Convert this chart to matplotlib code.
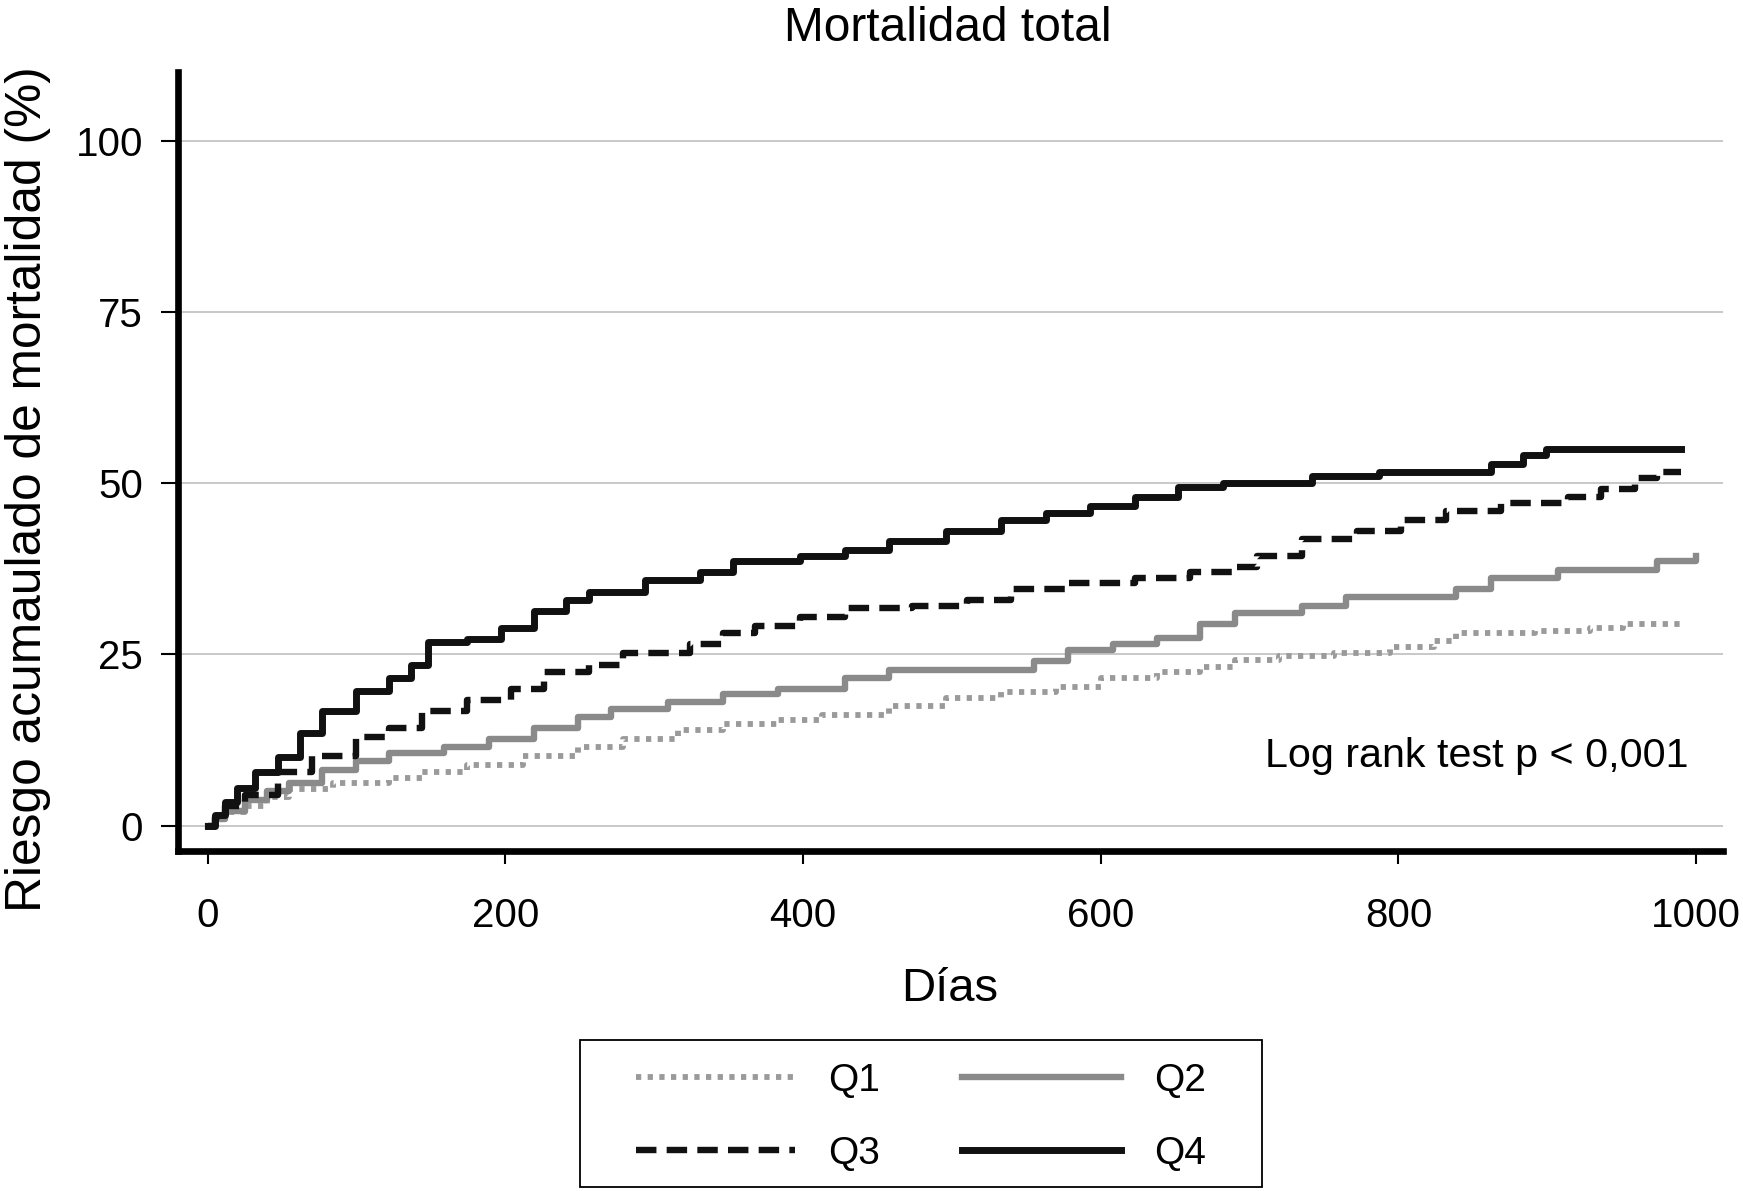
import matplotlib
matplotlib.use("Agg")
import matplotlib.pyplot as plt
from matplotlib.lines import Line2D
from matplotlib.patches import Rectangle

plt.rcParams['font.family'] = ['Liberation Sans', 'DejaVu Sans']

# Kaplan-Meier style cumulative mortality (%) step data
q1_days = [0, 5, 12, 25, 40, 55, 84, 122, 144, 174, 212, 249, 279, 316, 346, 383, 413, 458, 496, 533, 570, 600, 638, 667, 690, 720, 757, 794, 824, 839, 892, 929, 951, 990]
q1_vals = [0, 1.0, 2.0, 2.9, 4.2, 5.4, 6.2, 7.0, 7.8, 8.9, 10.2, 11.5, 12.7, 14.0, 14.8, 15.4, 16.2, 17.5, 18.7, 19.5, 20.3, 21.6, 22.4, 23.2, 24.2, 24.8, 25.2, 26.1, 26.9, 28.1, 28.4, 28.9, 29.4, 29.4]

q2_days = [0, 5, 12, 25, 40, 55, 77, 100, 122, 159, 189, 219, 249, 271, 309, 346, 383, 428, 458, 533, 555, 578, 608, 638, 667, 690, 735, 765, 824, 839, 862, 907, 974, 1000]
q2_vals = [0, 1.0, 2.2, 3.7, 5.0, 6.2, 8.1, 9.4, 10.6, 11.5, 12.7, 14.3, 15.9, 17.0, 18.0, 19.2, 20.0, 21.6, 22.7, 22.7, 24.0, 25.6, 26.5, 27.4, 29.4, 31.0, 32.1, 33.3, 33.3, 34.6, 36.2, 37.3, 38.6, 39.4]

q3_days = [0, 5, 12, 25, 47, 70, 100, 122, 144, 174, 204, 226, 256, 279, 324, 346, 368, 398, 428, 473, 510, 540, 578, 623, 660, 690, 705, 735, 772, 802, 832, 869, 914, 936, 959, 974, 990]
q3_vals = [0, 1.2, 2.8, 4.5, 7.8, 10.2, 13.0, 14.3, 16.7, 18.3, 20.0, 22.4, 23.5, 25.2, 26.5, 28.1, 29.2, 30.5, 31.7, 32.1, 33.0, 34.6, 35.4, 36.2, 37.0, 37.8, 39.4, 41.9, 43.0, 44.6, 45.9, 47.1, 48.0, 49.2, 50.8, 51.6, 51.6]

q4_days = [0, 5, 12, 20, 32, 47, 62, 77, 100, 122, 137, 148, 174, 197, 219, 241, 256, 294, 331, 353, 398, 428, 458, 496, 533, 563, 593, 623, 652, 682, 742, 787, 862, 884, 899, 990]
q4_vals = [0, 1.5, 3.5, 5.5, 7.8, 10.0, 13.5, 16.7, 19.6, 21.6, 23.5, 26.8, 27.3, 28.9, 31.3, 33.0, 34.1, 35.9, 37.0, 38.6, 39.4, 40.3, 41.6, 43.0, 44.6, 45.6, 46.6, 47.9, 49.5, 50.0, 51.1, 51.6, 52.8, 54.1, 55.0, 55.0]

labels = ['Q1', 'Q2', 'Q3', 'Q4']
y_ticks = [0, 25, 50, 75, 100]
x_ticks = [0, 200, 400, 600, 800, 1000]

fig = plt.figure(figsize=(17.43, 11.91), dpi=100)
ax = fig.add_axes([0.102, 0.2855, 0.8865, 0.654])

for yv in y_ticks:
    ax.axhline(yv, color='#c4c4c4', lw=1.3, zorder=0)

styles = {
    'Q1': dict(color='#9a9a9a', lw=4.2, linestyle=(0, (0.9, 1.1)), dash_capstyle='butt'),
    'Q2': dict(color='#8a8a8a', lw=4.6, linestyle='-'),
    'Q3': dict(color='#111111', lw=4.6, linestyle=(0, (3.2, 1.6)), dash_capstyle='butt'),
    'Q4': dict(color='#111111', lw=5.0, linestyle='-'),
}
series = {'Q1': (q1_days, q1_vals), 'Q2': (q2_days, q2_vals),
          'Q3': (q3_days, q3_vals), 'Q4': (q4_days, q4_vals)}
for name in labels:
    d, v = series[name]
    ax.step(d, v, where='post', **styles[name])

ax.set_xlim(-20, 1018)
ax.set_ylim(-3.7, 110)
ax.spines['top'].set_visible(False)
ax.spines['right'].set_visible(False)
ax.spines['left'].set_linewidth(4.8)
ax.spines['bottom'].set_linewidth(4.8)
ax.set_yticks(y_ticks)
ax.set_xticks(x_ticks)
ax.tick_params(axis='y', length=12, width=1.5, pad=13, labelsize=29)
ax.tick_params(axis='x', length=9, width=1.5, pad=24, labelsize=29)

ax.text(995, 10.2, 'Log rank test p < 0,001', ha='right', va='center', fontsize=29.7)

fig.text(0.544, 0.976, 'Mortalidad total', ha='center', va='center', fontsize=34.5)
fig.text(0.545, 0.170, 'Días', ha='center', va='center', fontsize=34)
fig.text(0.016, 0.589, 'Riesgo acumaulado de mortalidad (%)', ha='center', va='center',
         rotation=90, fontsize=35.7)

# legend
handles = {n: Line2D([], [], **styles[n]) for n in labels}
order = ['Q1', 'Q3', 'Q2', 'Q4']
fig.patches.append(Rectangle((0.333, 0.003), 0.391, 0.124, transform=fig.transFigure,
                             fill=False, edgecolor='black', lw=1.3))
fig.legend([handles[n] for n in order], order, loc='center', bbox_to_anchor=(0.5285, 0.062),
           ncol=2, frameon=False, fontsize=28, handlelength=4.1, handletextpad=0.85,
           columnspacing=2.1, labelspacing=0.95)

fig.savefig('out.png', dpi=100)
